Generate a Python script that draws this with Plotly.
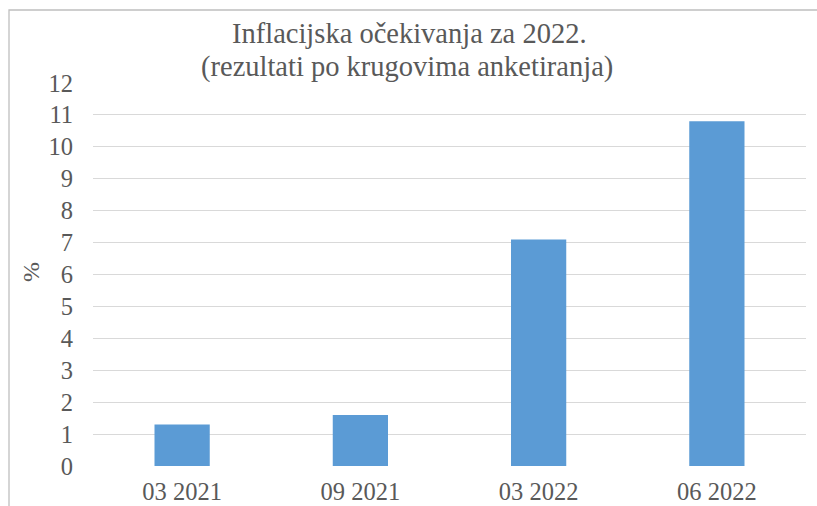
import plotly.graph_objects as go

categories = ["03 2021", "09 2021", "03 2022", "06 2022"]
values = [1.3, 1.6, 7.1, 10.8]
y_ticks = list(range(0, 13))

title_line1 = "Inflacijska očekivanja za 2022."
title_line2 = "(rezultati po krugovima anketiranja)"

W, H = 817, 506
ml, mr, mt, mb = 93, 11, 83, 40
pw, ph = W - ml - mr, H - mt - mb

def px_x(x):
    return (x - ml) / pw

def px_y(y):
    return (H - mb - y) / ph

fig = go.Figure(go.Bar(
    x=categories, y=values,
    marker=dict(color="#5B9BD5", line=dict(width=0)),
    width=0.31,
))

font_family = "Liberation Serif"
grey = "#595959"

fig.update_layout(
    width=W, height=H,
    margin=dict(l=ml, r=mr, t=mt, b=mb, autoexpand=False),
    paper_bgcolor="white", plot_bgcolor="white",
    showlegend=False,
    font=dict(family=font_family, color=grey),
    xaxis=dict(
        showgrid=False, zeroline=False, showline=False, automargin=False,
        tickfont=dict(size=24.5, color=grey, family=font_family),
        ticks="", ticklabelstandoff=8,
    ),
    yaxis=dict(
        range=[0, 12], tickvals=y_ticks, automargin=False,
        showgrid=True, gridcolor="#D9D9D9", gridwidth=1.3,
        zeroline=False, showline=False,
        tickfont=dict(size=24.5, color=grey, family=font_family),
        ticks="", ticklabelstandoff=19,
    ),
    annotations=[
        dict(text=title_line1, xref="paper", yref="paper", x=px_x(409), y=px_y(33),
             xanchor="center", yanchor="middle", showarrow=False,
             font=dict(size=28.5, color=grey, family=font_family)),
        dict(text=title_line2, xref="paper", yref="paper", x=px_x(407), y=px_y(67),
             xanchor="center", yanchor="middle", showarrow=False,
             font=dict(size=28.5, color=grey, family=font_family)),
        dict(text="%", xref="paper", yref="paper", x=px_x(31), y=px_y(272),
             xanchor="center", yanchor="middle", showarrow=False, textangle=-90,
             font=dict(size=24, color=grey, family=font_family)),
    ],
    shapes=[dict(
        type="rect", xref="paper", yref="paper",
        x0=px_x(9), x1=px_x(840), y0=px_y(530), y1=px_y(10),
        line=dict(color="#BFBFBF", width=1.3), layer="below",
    )],
)

fig.write_html("out.html")
